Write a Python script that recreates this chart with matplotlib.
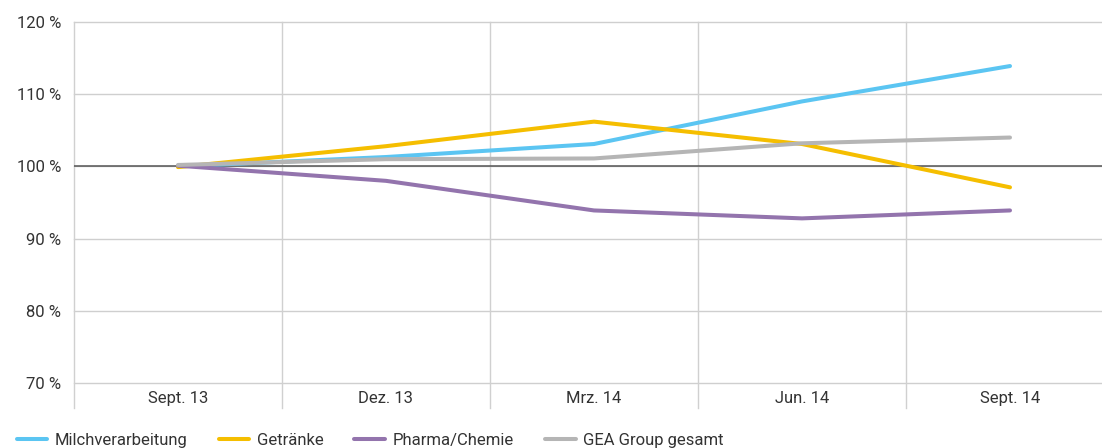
import matplotlib
matplotlib.use("Agg")
import matplotlib.pyplot as plt
from matplotlib.lines import Line2D

categories = ["Sept. 13", "Dez. 13", "Mrz. 14", "Jun. 14", "Sept. 14"]
milch = [100.0, 101.3, 103.1, 109.0, 113.9]
getraenke = [99.9, 102.8, 106.2, 103.1, 97.1]
pharma = [100.1, 98.0, 93.9, 92.8, 93.9]
gea = [100.2, 101.0, 101.1, 103.2, 104.0]
series_names = ["Milchverarbeitung", "Getränke", "Pharma/Chemie", "GEA Group gesamt"]
yticks = [70, 80, 90, 100, 110, 120]

colors = ["#5BC5F2", "#F5BE00", "#9374AD", "#B5B5B5"]
plt.rcParams['font.family'] = ['Roboto', 'DejaVu Sans']
text_color = "#333333"
fs = 12

W, H = 1102, 448
fig = plt.figure(figsize=(W / 100, H / 100), dpi=100)
left, right, top, bottom = 74, 1114, 22, 383
ax = fig.add_axes([left / W, 1 - bottom / H, (right - left) / W, (bottom - top) / H])
ax.set_xlim(-0.5, len(categories) - 0.5)
ax.set_ylim(70, 120)

x = list(range(len(categories)))
for vals, c, name in zip([milch, getraenke, pharma, gea], colors, series_names):
    ax.plot(x, vals, color=c, lw=2.9, solid_capstyle='round', label=name, zorder=3)

ax.axhline(100, color="#555555", lw=1.1, zorder=2)

# horizontal gridlines
ax.set_yticks(yticks)
ax.set_yticklabels([f"{v} %" for v in yticks])
for v in yticks:
    ax.axhline(v, color="#CFCFCF", lw=1, zorder=1, clip_on=False)
# vertical gridlines between categories
for b in [i - 0.5 for i in range(len(categories) + 1)]:
    ax.plot([b, b], [66.5, 120], color="#D0D0D0", lw=1, zorder=1, clip_on=False)
ax.set_xticks(x)
ax.set_xticklabels(categories)
ax.tick_params(axis='both', length=0, labelcolor=text_color, labelsize=fs)
ax.tick_params(axis='x', pad=6)
ax.tick_params(axis='y', pad=9)
for s in ax.spines.values():
    s.set_visible(False)

handles = [Line2D([0], [0], color=c, lw=2.9, solid_capstyle='round') for c in colors]
leg = fig.legend(handles, series_names, loc='lower left', bbox_to_anchor=(0.006, -0.022),
                 ncol=4, frameon=False, fontsize=fs, handlelength=1.85, handletextpad=0.45,
                 columnspacing=1.85, labelcolor=text_color, borderaxespad=0.2)

fig.savefig("out.png", dpi=100)
